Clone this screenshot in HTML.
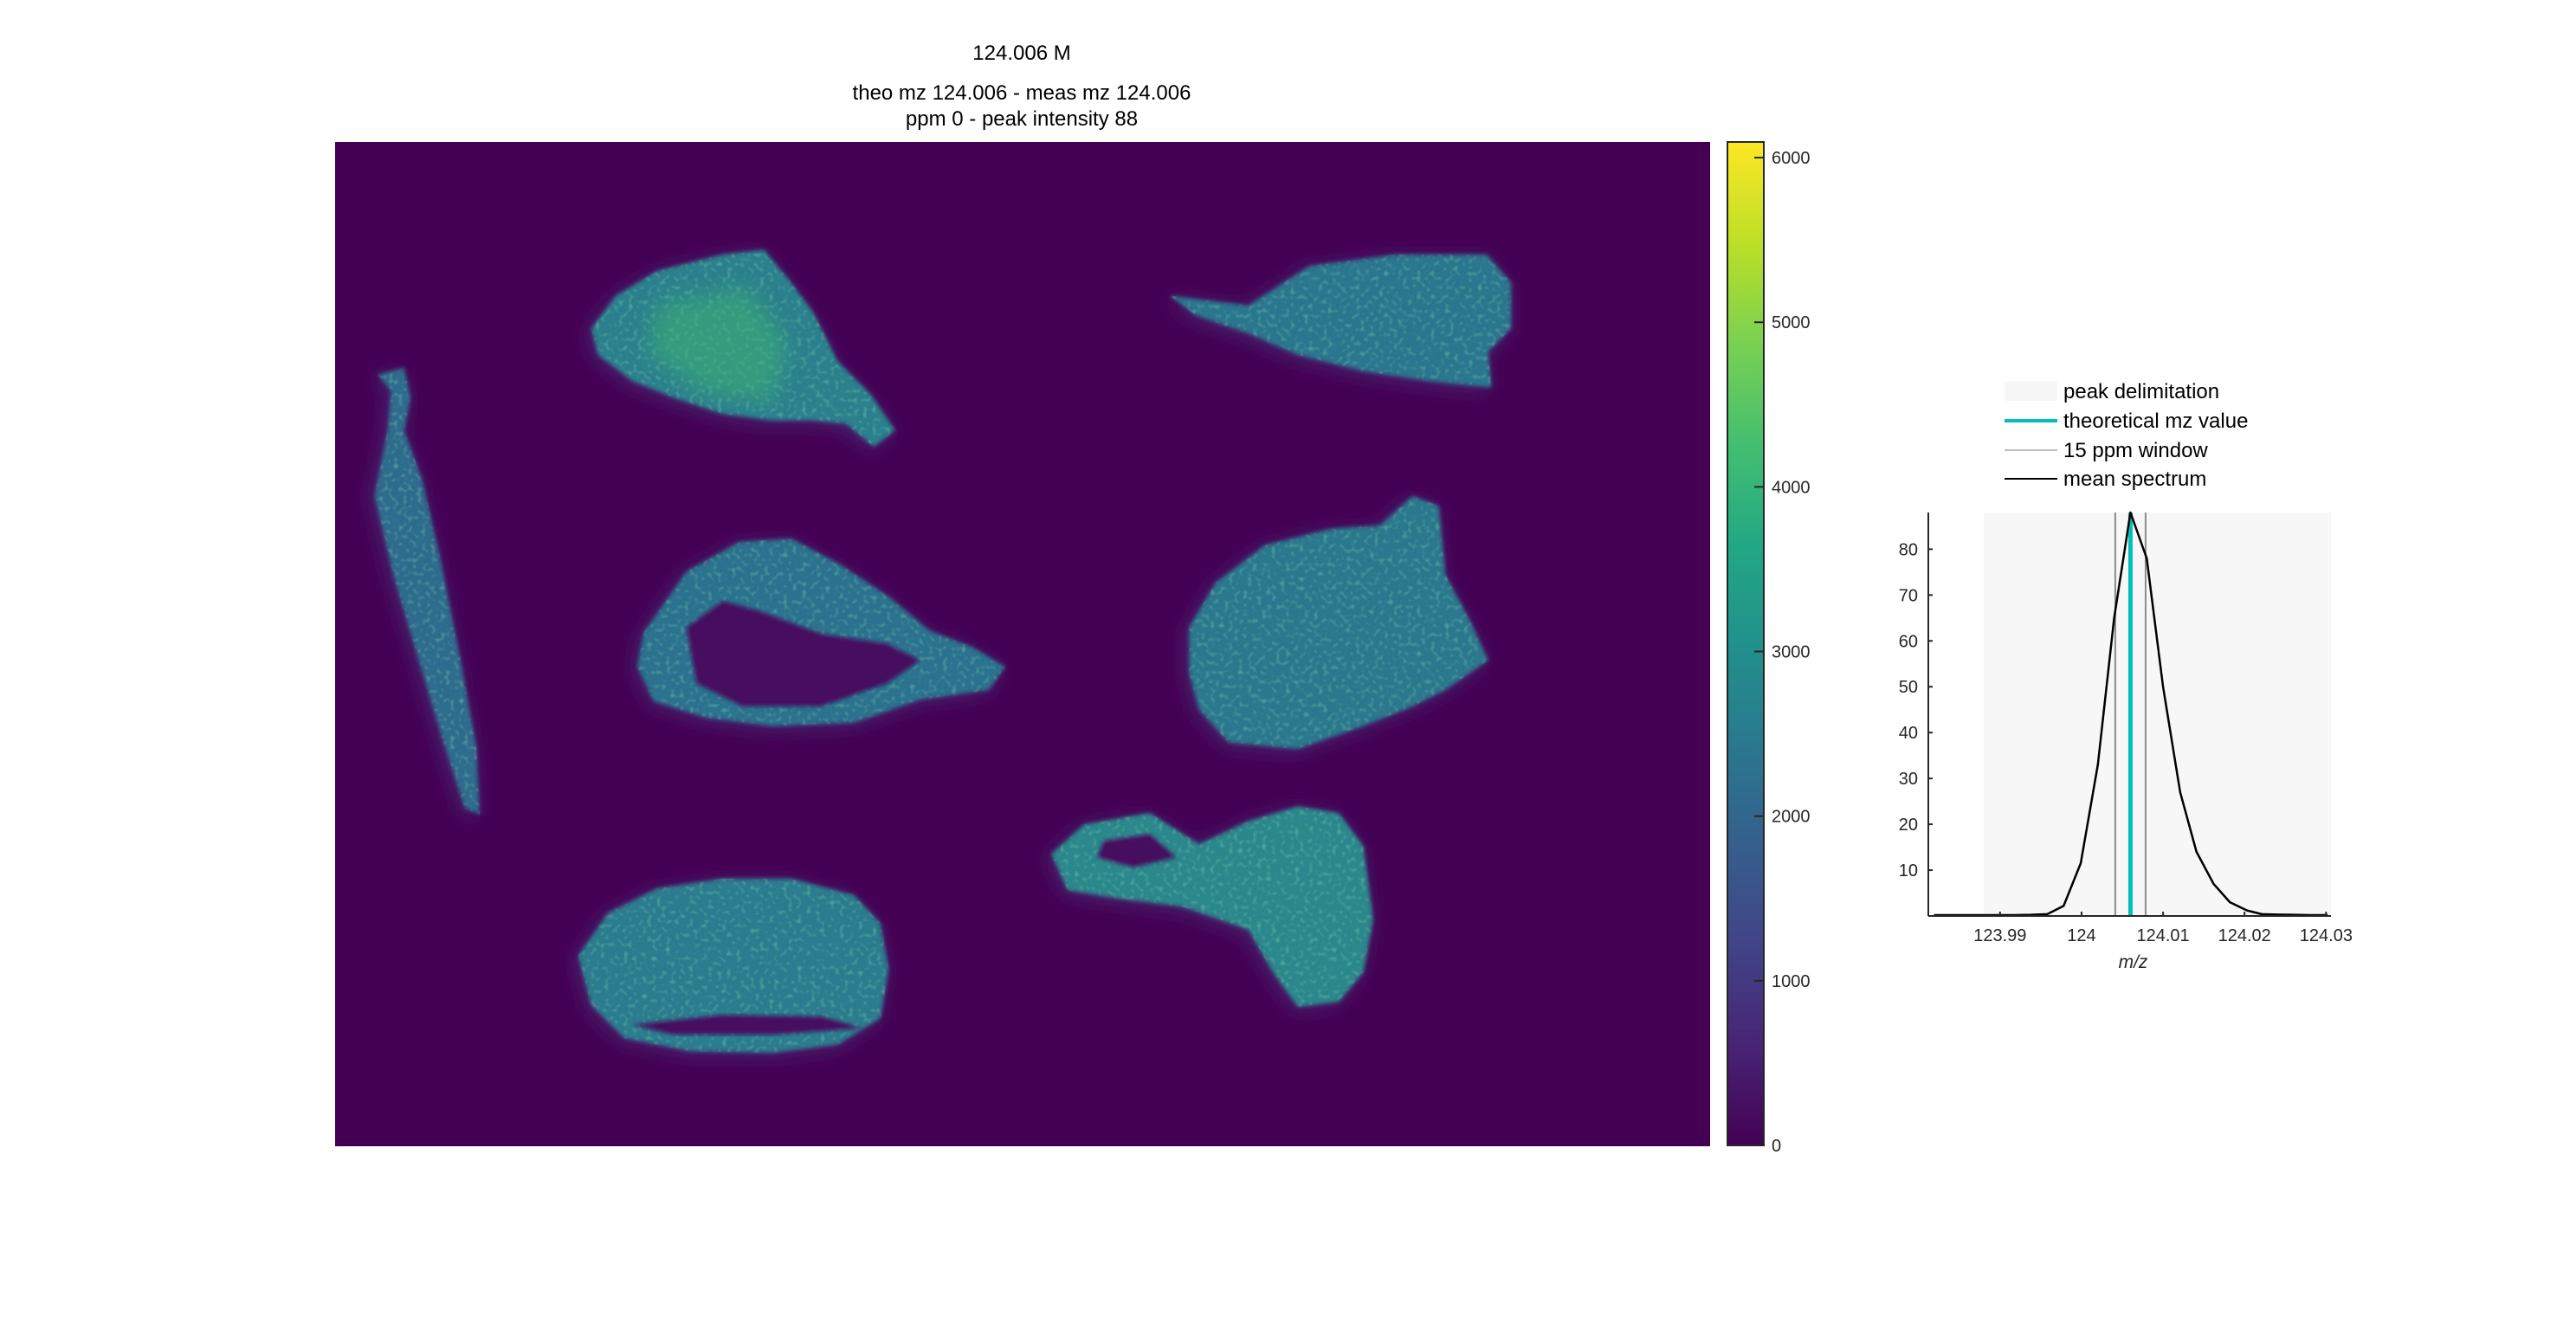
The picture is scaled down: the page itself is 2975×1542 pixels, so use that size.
<!DOCTYPE html>
<html><head><meta charset="utf-8">
<style>
html,body{margin:0;padding:0;background:#fff;}
svg{display:block;font-family:"Liberation Sans",Arial,sans-serif;}
</style></head>
<body>
<svg id="fig" width="2975" height="1542" viewBox="0 0 2975 1542">
<defs>
<linearGradient id="viridis" x1="0" y1="1" x2="0" y2="0">
<stop offset="0" stop-color="#440154"/><stop offset="0.1" stop-color="#482475"/>
<stop offset="0.2" stop-color="#414487"/><stop offset="0.3" stop-color="#355f8d"/>
<stop offset="0.4" stop-color="#2a788e"/><stop offset="0.5" stop-color="#21918c"/>
<stop offset="0.6" stop-color="#22a884"/><stop offset="0.7" stop-color="#44bf70"/>
<stop offset="0.8" stop-color="#7ad151"/><stop offset="0.9" stop-color="#bddf26"/>
<stop offset="1" stop-color="#fde725"/></linearGradient>
<filter id="halo" x="-20%" y="-20%" width="140%" height="140%"><feGaussianBlur stdDeviation="6"/></filter>
<filter id="soft"><feGaussianBlur stdDeviation="1.2"/></filter>
<filter id="speck" x="0" y="0" width="100%" height="100%">
<feTurbulence type="fractalNoise" baseFrequency="0.35" numOctaves="1" seed="3" result="n"/>
<feColorMatrix in="n" type="matrix" values="0 0 0 0 0.25  0 0 0 0 0.70  0 0 0 0 0.45  0 0 0 1.2 -0.62"/>
<feComposite in2="SourceGraphic" operator="in"/>
</filter>
<clipPath id="hmclip"><rect x="387" y="164" width="1588" height="1160"/></clipPath>
</defs>

<text x="1180" y="69" font-size="24" text-anchor="middle">124.006 M</text>
<text x="1180" y="115" font-size="24" text-anchor="middle">theo mz 124.006 - meas mz 124.006</text>
<text x="1180" y="145" font-size="24" text-anchor="middle">ppm 0 - peak intensity 88</text>

<g clip-path="url(#hmclip)">
<rect x="387" y="164" width="1588" height="1160" fill="#440154"/>
<g id="tissues" transform="scale(1.897)"></g>
</g>

<rect x="1995" y="164" width="42" height="1159" fill="url(#viridis)" stroke="#262626" stroke-width="2"/>
<g id="cbticks"></g>

<rect id="band" fill="#f7f7f7"/>
<g id="spec"></g>

<g>
<rect x="2315" y="440" width="61" height="23" fill="#f7f7f7"/>
<text x="2383" y="460" font-size="24">peak delimitation</text>
<line x1="2315" y1="486" x2="2376" y2="486" stroke="#00bfbf" stroke-width="4"/>
<text x="2383" y="494" font-size="24">theoretical mz value</text>
<line x1="2315" y1="520" x2="2376" y2="520" stroke="#bdbdbd" stroke-width="2"/>
<text x="2383" y="528" font-size="24">15 ppm window</text>
<line x1="2315" y1="553" x2="2376" y2="553" stroke="#000" stroke-width="2"/>
<text x="2383" y="561" font-size="24">mean spectrum</text>
</g>
</svg>

<script>
// ---- spectrum data ----
const mzValues = [123.9819,123.9838,123.9858,123.9878,123.9897,123.9917,123.9938,123.9958,123.9978,123.9999,124.0020,124.0040,124.0060,124.0080,124.0100,124.0121,124.0141,124.0162,124.0182,124.0203,124.0221,124.0240,124.0260,124.0280,124.0302];
const intensities = [0.2,0.2,0.2,0.2,0.2,0.2,0.25,0.4,2.2,11.5,33,65,88,78,50,27,14,7,3,1.2,0.4,0.3,0.25,0.2,0.2];
const xTicks = [123.99,124.00,124.01,124.02,124.03];
const xTickLabels = ["123.99","124","124.01","124.02","124.03"];
const yTicks = [10,20,30,40,50,60,70,80];
const theoMz = [124.006];
const ppmWindow = [124.00414,124.00786];
const peakRange = [123.9880,124.0306];
const cbTicks = [0,1000,2000,3000,4000,5000,6000];
const xDomain = [123.9812,124.0306];
const yDomain = [0,88];

const NS="http://www.w3.org/2000/svg";
function mk(tag,attrs,parent){const e=document.createElementNS(NS,tag);for(const k in attrs)e.setAttribute(k,attrs[k]);parent.appendChild(e);return e;}
const L=2227,R=2692,T=592,B=1058;
const sx=v=>L+(v-xDomain[0])/(xDomain[1]-xDomain[0])*(R-L);
const sy=v=>B-(v-yDomain[0])/(yDomain[1]-yDomain[0])*(B-T);

const band=document.getElementById('band');
band.setAttribute('x',sx(peakRange[0]));band.setAttribute('y',T);
band.setAttribute('width',sx(peakRange[1])-sx(peakRange[0]));band.setAttribute('height',B-T);

const spec=document.getElementById('spec');
ppmWindow.forEach((m,i)=>{const l=mk('line',{x1:sx(m),x2:sx(m),y1:T,y2:B,stroke:'#8c8c8c','stroke-width':2},spec);

});
theoMz.forEach(m=>{const l=mk('line',{x1:sx(m),x2:sx(m),y1:T,y2:B,stroke:'#00bfbf','stroke-width':5},spec);

});
const pl=mk('polyline',{points:mzValues.map((m,i)=>sx(m)+','+sy(intensities[i])).join(' '),fill:'none',stroke:'#000','stroke-width':2.5,'stroke-linejoin':'round'},spec);


const ya=mk('line',{x1:L,x2:L,y1:T,y2:B,stroke:'#262626','stroke-width':2},spec);


const xa=mk('line',{x1:L,x2:R,y1:B,y2:B,stroke:'#262626','stroke-width':2},spec);


yTicks.forEach(v=>{mk('line',{x1:L,x2:L+5,y1:sy(v),y2:sy(v),stroke:'#262626','stroke-width':2},spec);
const t=mk('text',{x:L-12,y:sy(v)+7,'font-size':20,'text-anchor':'end',fill:'#262626'},spec);t.textContent=v;

});
xTicks.forEach((v,i)=>{mk('line',{x1:sx(v),x2:sx(v),y1:B,y2:B-5,stroke:'#262626','stroke-width':2},spec);
const t=mk('text',{x:sx(v),y:B+29,'font-size':20,'text-anchor':'middle',fill:'#262626'},spec);t.textContent=xTickLabels[i];

});
const xl=mk('text',{x:(L+R)/2+4,y:B+60,'font-size':21,'text-anchor':'middle','font-style':'italic',fill:'#262626'},spec);xl.textContent='m/z';



// colorbar ticks
const cbg=document.getElementById('cbticks');
const cy=v=>1323-(v/6095)*(1323-164);
cbTicks.forEach(v=>{mk('line',{x1:2026,x2:2037,y1:cy(v),y2:cy(v),stroke:'#262626','stroke-width':2},cbg);
const t=mk('text',{x:2046,y:cy(v)+7,'font-size':20,fill:'#262626'},cbg);t.textContent=v;

});

// tissue sections (display-scale outlines)
const tissues=[
 {name:'tissue-top-left',pts:[[375,180],[400,165],[440,155],[465,152],[480,170],[495,190],[510,220],[530,240],[545,262],[532,272],[515,258],[495,256],[470,256],[440,252],[410,242],[385,232],[364,216],[360,200]],c:'#2a808d',hi:[[400,185],[455,175],[480,210],[470,245],[430,240],[395,215]]},
 {name:'tissue-top-right',pts:[[712,180],[760,186],[797,162],[850,155],[905,155],[920,172],[920,200],[906,214],[908,236],[870,232],[830,226],[790,216],[760,203],[728,192]],c:'#2a768e'},
 {name:'tissue-left-strip',pts:[[230,228],[246,224],[250,242],[246,262],[257,292],[268,340],[280,400],[290,455],[292,496],[283,492],[270,452],[255,402],[240,352],[228,302],[236,262],[238,238]],c:'#2d6c8e'},
 {name:'tissue-middle-ring',pts:[[392,385],[418,348],[450,330],[482,328],[512,344],[542,364],[566,384],[592,394],[612,406],[602,420],[560,426],[520,440],[470,442],[430,437],[398,427],[388,406]],c:'#2a728e',hole:[[418,382],[440,366],[462,372],[500,386],[540,392],[560,402],[540,416],[500,430],[452,430],[424,416]]},
 {name:'tissue-middle-right',pts:[[724,382],[740,355],[770,332],[810,322],[840,320],[860,302],[876,308],[880,350],[896,380],[906,402],[880,420],[860,430],[830,442],[790,456],[748,452],[730,432],[724,410]],c:'#2a788e'},
 {name:'tissue-bottom-left',pts:[[352,582],[370,556],[400,541],[440,535],[482,535],[520,545],[536,562],[541,590],[536,620],[510,636],[470,641],[420,640],[380,632],[360,612]],c:'#2a7c8e',hole:[[385,624],[440,618],[500,619],[525,626],[470,630],[410,630]]},
 {name:'tissue-bottom-right',pts:[[640,520],[660,502],[700,495],[730,514],[760,500],[790,491],[815,495],[830,515],[836,560],[830,592],[815,610],[790,613],[775,592],[760,566],[720,552],[680,547],[650,542]],c:'#29878c',hole:[[672,512],[700,508],[716,522],[690,528],[668,522]]}
];
const tg=document.getElementById('tissues');
const P=a=>a.map(p=>p.join(',')).join(' ');
tissues.forEach(t=>{
 const h=mk('polygon',{points:P(t.pts),fill:'#47276f',filter:'url(#halo)',transform:'translate(-2,2) '},tg);
 
 
 const p=mk('polygon',{points:P(t.pts),fill:t.c,filter:'url(#soft)'},tg);
 
 
 const s=mk('polygon',{points:P(t.pts),fill:'#fff',filter:'url(#speck)'},tg);
 
 
 if(t.hi){const q=mk('polygon',{points:P(t.hi),fill:'#3fb56f',opacity:0.5,filter:'url(#halo)'},tg);
 
 }
 if(t.hole){const q=mk('polygon',{points:P(t.hole),fill:'#460b5e',filter:'url(#soft)'},tg);
 
 }
});
</script>
</body></html>
